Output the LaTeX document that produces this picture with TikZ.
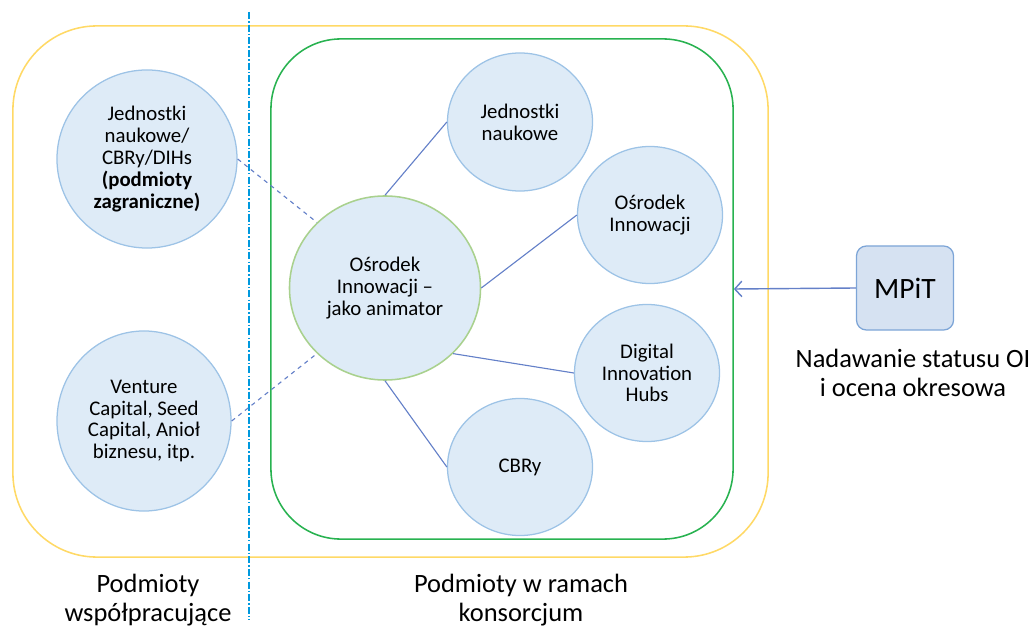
\documentclass[tikz,border=0pt]{standalone}
\usepackage{fontspec}
\setmainfont{Carlito}
\usetikzlibrary{shapes.geometric, arrows.meta}

\definecolor{circfill}{RGB}{222,235,247}
\definecolor{circline}{RGB}{157,195,230}
\definecolor{animline}{RGB}{169,209,142}
\definecolor{outeryellow}{RGB}{255,217,102}
\definecolor{innergreen}{RGB}{40,178,80}
\definecolor{linkblue}{RGB}{100,128,200}
\definecolor{sepblue}{RGB}{0,153,222}
\definecolor{boxfill}{RGB}{214,226,242}
\definecolor{boxline}{RGB}{125,165,215}

\begin{document}
\begin{tikzpicture}[x=0.025cm, y=-0.025cm]

\tikzset{unit/.style = {shape=ellipse,draw=circline,fill=circfill,line width=0.9pt,inner sep=0pt,align=center,font=\fontsize{14.8}{15.5}\selectfont}}
\tikzset{frame/.style = {shape=rectangle,line width=1.1pt}}
\tikzset{link/.style = {draw=linkblue,line width=0.8pt}}
\tikzset{caption/.style = {align=center,font=\fontsize{18.8}{20.6}\selectfont}}

\useasboundingbox (0,0) rectangle (1036,628);

%ramki
\node[frame, draw=outeryellow, rounded corners=2.1cm, minimum width=18.875cm, minimum height=13.275cm] (wsp) at (390.5,291.5) {};
\node[frame, draw=innergreen, rounded corners=1.75cm, minimum width=11.55cm, minimum height=12.5cm] (kons) at (502,289) {};
\coordinate (sept) at (249,12);
\coordinate (sepb) at (249,620);
\draw[sepblue, line width=0.8pt, dash pattern=on 5pt off 1.5pt on 1pt off 1.5pt] (sept) -- (sepb);

%podmioty
\node[unit, draw=animline, line width=1.1pt, minimum width=4.775cm, minimum height=4.6cm] (anim) at (385,288) {Ośrodek\\Innowacji –\\jako animator};
\node[unit, minimum width=3.625cm, minimum height=3.45cm] (jn) at (520,122) {Jednostki\\naukowe};
\node[unit, minimum width=3.625cm, minimum height=3.425cm] (oi) at (650,215) {Ośrodek\\Innowacji};
\node[unit, minimum width=3.625cm, minimum height=3.425cm] (dih) at (647,373) {Digital\\Innovation\\Hubs};
\node[unit, minimum width=3.625cm, minimum height=3.425cm] (cbry) at (520,467) {CBRy};
\node[unit, minimum width=4.5cm, minimum height=4.45cm] (zagr) at (147,159) {Jednostki\\naukowe/\\CBRy/DIHs\\\textbf{(podmioty}\\\textbf{zagraniczne)}};
\node[unit, minimum width=4.35cm, minimum height=4.5cm] (vc) at (144,421) {Venture\\Capital, Seed\\Capital, Anioł\\biznesu, itp.};

%polaczenia
\draw[link] (anim.north) -- (jn.west);
\draw[link] (anim.east) -- (oi.west);
\draw[link] (anim.south east) -- (dih.west);
\draw[link] (anim.south) -- (cbry.west);
\draw[link, dashed] (zagr.east) -- (anim.north west);
\draw[link, dashed] (vc.east) -- (anim.south west);

%MPiT
\node[shape=rectangle, draw=boxline, fill=boxfill, line width=0.9pt, rounded corners=7pt, minimum width=2.425cm, minimum height=2.1cm, font=\fontsize{21}{25}\selectfont] (mpit) at (905,288) {MPiT};
\draw[link, line width=1pt, -{Straight Barb[length=5pt,width=11pt]}] (mpit.west) -- (kons.east);
\node[caption] (status) at (913,373) {Nadawanie statusu OI\\i ocena okresowa};

%podpisy
\node[caption] (podwsp) at (148,600) {Podmioty\\współpracujące};
\node[caption] (podkons) at (521,600) {Podmioty w ramach\\konsorcjum};

\end{tikzpicture}
\end{document}
